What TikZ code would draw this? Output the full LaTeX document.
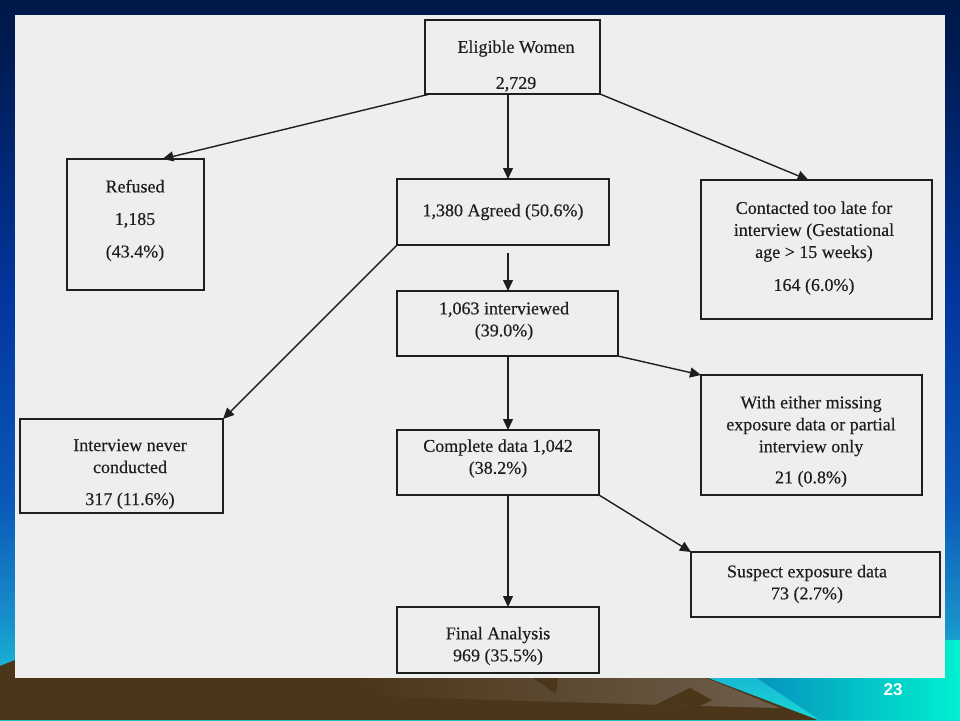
\documentclass[tikz,border=0pt]{standalone}
\usepackage{fontspec}
\setmainfont{Liberation Serif}[FakeBold=0.35]
\newfontfamily\numfont{Liberation Sans}
\usetikzlibrary{arrows.meta,calc}
\definecolor{bgA}{HTML}{18D8D8}
\definecolor{bgB}{HTML}{1890CC}
\definecolor{bgC}{HTML}{0A58B8}
\definecolor{bgD}{HTML}{0336A0}
\definecolor{bgE}{HTML}{001C55}
\definecolor{bgF}{HTML}{001848}
\definecolor{panel}{HTML}{EEEEEE}
\definecolor{ink}{HTML}{1E1E1E}
\definecolor{brownA}{HTML}{4B3619}
\definecolor{brownB}{HTML}{6E5E4C}
\definecolor{cyanL}{HTML}{0878B8}
\definecolor{cyanR}{HTML}{00F0D0}
\pgfdeclareverticalshading{slidebg}{100bp}{color(0bp)=(bgA); color(25bp)=(bgA); color(31.9bp)=(bgB); color(40.3bp)=(bgC); color(54.2bp)=(bgD); color(70.8bp)=(bgE); color(75bp)=(bgF); color(100bp)=(bgF)}
\begin{document}
\begin{tikzpicture}[x=1pt,y=-1pt,
  box/.style={draw=ink, line width=1.3pt, inner sep=0pt, outer sep=0pt},
  txt/.style={align=center, inner sep=0pt, text=ink, font=\fontsize{18}{22}\selectfont},
  arr/.style={draw=ink, line width=1.4pt, -{Triangle[length=11pt,width=10pt]}}]
\useasboundingbox (0,0) rectangle (960,720);
% slide background
\shade[shading=slidebg] (0,0) rectangle (960,720);
\shade[left color=cyanL, right color=cyanR] (700,640) -- (960,640) -- (960,720) -- (820,720) -- cycle;
\fill[brownA] (0,666) -- (15,660) -- (15,678) -- (708,678) -- (818,720) -- (0,720) -- cycle;
\shade[left color=brownA, right color=brownB] (358,678) -- (706,678) -- (780,708) -- (700,706) -- (393,697) -- cycle;
\fill[brownA] (533,678) -- (558,678) -- (556,694) -- cycle;
\fill[brownA] (655,705) -- (690,688) -- (712,700) -- (700,706) -- cycle;
\node[font=\numfont\bfseries\fontsize{17}{17}\selectfont, text=white, inner sep=0pt] (pnum) at (893,690) {23};
% panel
\fill[panel] (15,15) rectangle (945,678);
\coordinate (colx) at (508,0);
% boxes
\node[box, minimum width=175, minimum height=74] (elig) at (512.5,57) {};
\node[txt] (eligT) at (516,66) {Eligible Women\\[14pt]2,729};
\node[box, minimum width=137, minimum height=131] (ref) at (135.5,224.5) {};
\node[txt] (refT) at (135,220.5) {Refused\\[10.5pt]1,185\\[10.5pt](43.4\%)};
\node[box, minimum width=212, minimum height=66] (agr) at (503,212) {};
\node[txt] (agrT) at (503,212) {1,380 Agreed (50.6\%)};
\node[box, minimum width=231, minimum height=139] (cont) at (816.5,249.5) {};
\node[txt] (contT) at (814,248) {Contacted too late for\\interview (Gestational\\age > 15 weeks)\\[11pt]164 (6.0\%)};
\node[box, minimum width=221, minimum height=65] (intv) at (507.5,323.5) {};
\node[txt] (intvT) at (504,321) {1,063 interviewed\\(39.0\%)};
\node[box, minimum width=221, minimum height=120] (with) at (811.5,435) {};
\node[txt] (withT) at (811,441.5) {With either missing\\exposure data or partial\\interview only\\[9pt]21 (0.8\%)};
\node[box, minimum width=203, minimum height=94] (never) at (121.5,466) {};
\node[txt] (neverT) at (130,474) {Interview never\\conducted\\[10pt]317 (11.6\%)};
\node[box, minimum width=202, minimum height=65] (comp) at (498,462.5) {};
\node[txt] (compT) at (498,458.5) {Complete data 1,042\\(38.2\%)};
\node[box, minimum width=249, minimum height=65] (sus) at (815.5,584.5) {};
\node[txt] (susT) at (807,584) {Suspect exposure data\\73 (2.7\%)};
\node[box, minimum width=202, minimum height=66] (final) at (498,640) {};
\node[txt] (finalT) at (498,646) {Final Analysis\\969 (35.5\%)};
% connectors
\draw[arr] ($(elig.south west)+(5,0)$) -- ($(ref.north)+(27,0)$);
\draw[arr] (elig.south -| colx) -- (agr.north -| colx);
\draw[arr] (elig.south east) -- ($(cont.north)+(-8,0)$);
\draw[arr] (agr.south west) -- (never.north east);
\draw[arr] ($(agr.south -| colx)+(0,8)$) -- (intv.north -| colx);
\draw[arr] (intv.south -| colx) -- (comp.north -| colx);
\draw[arr] (intv.south east) -- (with.north west);
\draw[arr] (comp.south -| colx) -- (final.north -| colx);
\draw[arr] (comp.south east) -- (sus.north west);
\end{tikzpicture}
\end{document}
